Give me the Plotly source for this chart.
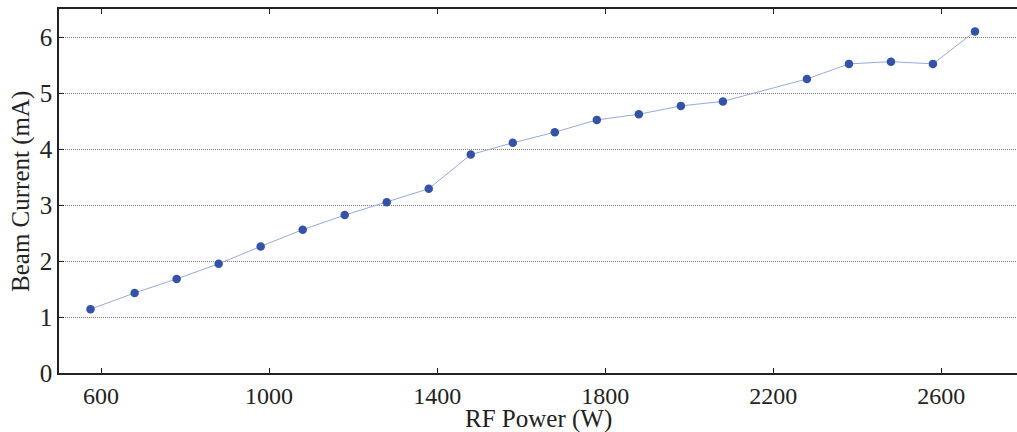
import plotly.graph_objects as go

rf_power = [575, 680, 780, 880, 980, 1080, 1180, 1280, 1380, 1480, 1580,
            1680, 1780, 1880, 1980, 2080, 2280, 2380, 2480, 2580, 2680]
beam_current = [1.14, 1.43, 1.68, 1.95, 2.26, 2.56, 2.82, 3.05, 3.29, 3.90, 4.11,
                4.30, 4.52, 4.62, 4.77, 4.85, 5.25, 5.52, 5.56, 5.52, 6.10]
x_ticks = [600, 1000, 1400, 1800, 2200, 2600]
y_ticks = [0, 1, 2, 3, 4, 5, 6]
x_title = "RF Power (W)"
y_title = "Beam Current (mA)"

font = "Liberation Serif, Times New Roman, serif"

fig = go.Figure()
fig.add_trace(go.Scatter(
    x=rf_power, y=beam_current, mode="lines+markers",
    line=dict(color="#98aadc", width=1),
    marker=dict(color="#3453a6", size=8.5),
    showlegend=False,
))

fig.update_layout(
    width=1017, height=432,
    margin=dict(l=59, r=0, t=9, b=59, autoexpand=False),
    plot_bgcolor="white", paper_bgcolor="white",
    font=dict(family=font, size=25, color="#222"),
    xaxis=dict(
        range=[500, 2780], tickvals=x_ticks, ticks="inside", ticklen=5,
        tickcolor="#222", showline=True, linecolor="#222", linewidth=1.5,
        mirror="ticks", showgrid=False, zeroline=False, automargin=False,
        tickfont=dict(size=24),
    ),
    yaxis=dict(
        range=[0, 6.5], tickvals=y_ticks, ticks="inside", ticklen=5,
        tickcolor="#222", showline=True, linecolor="#222", linewidth=1.5,
        showgrid=True, gridcolor="#7a7a7a", griddash="1px,1px", gridwidth=1,
        zeroline=False, automargin=False,
        tickfont=dict(size=25),
    ),
    annotations=[
        dict(text=x_title, xref="paper", yref="paper", x=0.5, y=-0.126,
             xanchor="center", yanchor="middle", showarrow=False,
             font=dict(size=25)),
        dict(text=y_title, xref="paper", yref="paper", x=-0.0397, y=0.5,
             xanchor="center", yanchor="middle", showarrow=False,
             textangle=-90, font=dict(size=25)),
    ],
)

fig.write_html(
    "out.html",
    config={"displayModeBar": False},
    post_script="document.body.style.margin='0';document.body.style.overflow='hidden';",
)
